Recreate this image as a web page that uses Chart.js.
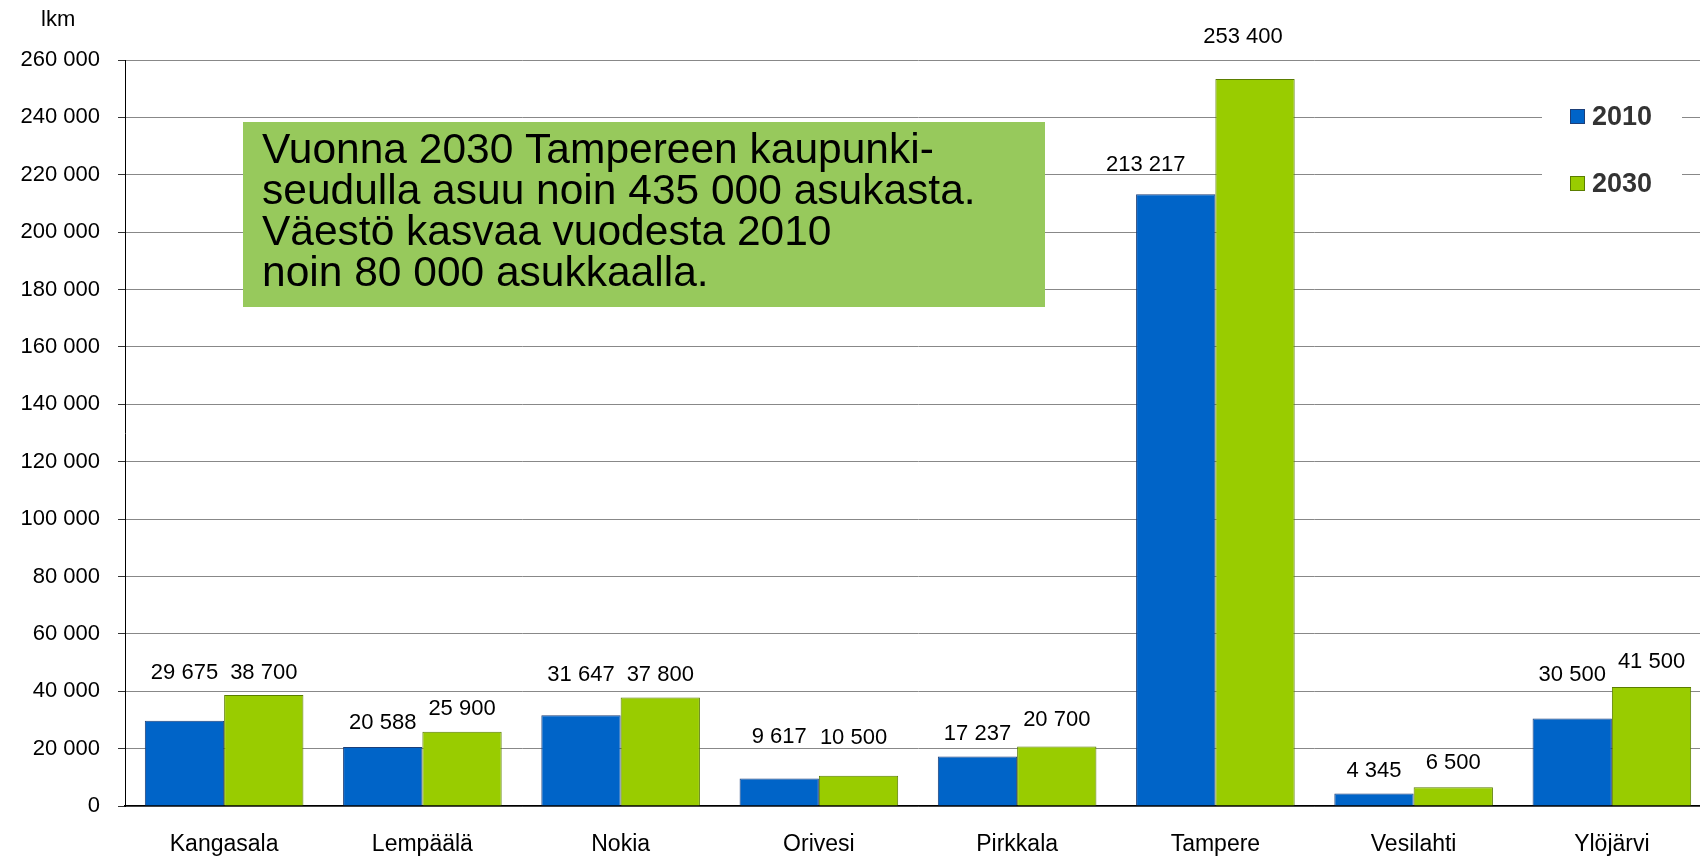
<!DOCTYPE html>
<html lang="fi">
<head>
  <meta charset="UTF-8">
  <title>Väestö 2010 ja 2030</title>
  <style>
    html, body { margin: 0; padding: 0; overflow: hidden; background: #fff; }
    #wrap { width: 1712px; height: 857px; position: relative; }
  </style>
</head>
<body>
  <div id="wrap">
    <canvas id="grafico"></canvas>
  </div>

  <script src="https://cdn.jsdelivr.net/npm/chart.js"></script>
  <script>
    // data
    const kunnat = ["Kangasala", "Lempäälä", "Nokia", "Orivesi", "Pirkkala", "Tampere", "Vesilahti", "Ylöjärvi"];
    const vaesto2010 = [29675, 20588, 31647, 9617, 17237, 213217, 4345, 30500];
    const vaesto2030 = [38700, 25900, 37800, 10500, 20700, 253400, 6500, 41500];
    const yTickStep = 20000;
    const yMax = 260000;

    // label nudges (px)
    const nosto2010 = [48, 24, 40, 41, 23, 29, 23, 44];
    const nosto2030 = [22, 23, 23, 38, 27, 42, 24, 25];
    const siirto2010 = [0, 0, 0, 0, 0, -30, 0, 0];
    const siirto2030 = [0, 0, 0, -5, 0, -12, 0, 0];

    const fontti = "'Liberation Sans', Arial, sans-serif";
    const fmt = n => String(n).replace(/\B(?=(\d{3})+(?!\d))/g, " ");

    const arvoLabelit = {
      id: "arvoLabelit",
      afterDatasetsDraw(chart) {
        const ctx = chart.ctx;
        const nostot = [nosto2010, nosto2030];
        const siirrot = [siirto2010, siirto2030];
        ctx.save();
        ctx.font = "22px " + fontti;
        ctx.fillStyle = "#000";
        ctx.textAlign = "center";
        ctx.textBaseline = "middle";
        chart.data.datasets.forEach((ds, i) => {
          chart.getDatasetMeta(i).data.forEach((bar, j) => {
            ctx.fillText(fmt(ds.data[j]), bar.x + siirrot[i][j], bar.y - nostot[i][j]);
          });
        });
        ctx.restore();
      }
    };

    const koristeet = {
      id: "koristeet",
      afterDraw(chart) {
        const ctx = chart.ctx;
        ctx.save();

        // yksikkö
        ctx.font = "22px " + fontti;
        ctx.fillStyle = "#000";
        ctx.textBaseline = "middle";
        ctx.textAlign = "left";
        ctx.fillText("lkm", 41, 20);

        // selite
        ctx.fillStyle = "#fff";
        ctx.fillRect(1542, 85, 140, 128);
        const rivit = [117, 184];
        chart.data.datasets.forEach((ds, i) => {
          const y = rivit[i];
          ctx.fillStyle = ds.backgroundColor;
          ctx.fillRect(1570, y - 8, 15, 15);
          ctx.strokeStyle = ds.borderColor;
          ctx.lineWidth = 1;
          ctx.strokeRect(1570.5, y - 7.5, 14, 14);
          ctx.fillStyle = "#333";
          ctx.font = "bold 27px " + fontti;
          ctx.textAlign = "left";
          ctx.fillText(ds.label, 1592, y + 1);
        });

        // huomautus
        ctx.fillStyle = "#97c95c";
        ctx.fillRect(243, 122, 802, 185);
        ctx.fillStyle = "#000";
        ctx.font = "42.5px " + fontti;
        ctx.textBaseline = "alphabetic";
        const teksti = [
          "Vuonna 2030 Tampereen kaupunki-",
          "seudulla asuu noin 435 000 asukasta.",
          "Väestö kasvaa vuodesta 2010",
          "noin 80 000 asukkaalla."
        ];
        teksti.forEach((t, k) => ctx.fillText(t, 262, 163 + k * 41));
        ctx.restore();
      }
    };

    new Chart(document.querySelector("#grafico"), {
      type: "bar",
      data: {
        labels: kunnat,
        datasets: [
          {
            label: "2010",
            data: vaesto2010,
            backgroundColor: "#0064c8",
            borderColor: "#1d3f78",
            borderWidth: 1
          },
          {
            label: "2030",
            data: vaesto2030,
            backgroundColor: "#99cc00",
            borderColor: "#5a7d00",
            borderWidth: 1
          }
        ]
      },
      options: {
        responsive: true,
        maintainAspectRatio: false,
        animation: false,
        devicePixelRatio: 1,
        categoryPercentage: 0.8,
        barPercentage: 1.0,
        layout: { padding: { top: 60, right: 1, bottom: 0, left: 0 } },
        plugins: {
          legend: { display: false },
          tooltip: { enabled: false }
        },
        scales: {
          x: {
            afterFit(scale) { scale.height = 51; },
            grid: { display: false, drawTicks: false },
            border: { color: "#000", width: 1.5 },
            ticks: {
              color: "#000",
              padding: 25,
              font: { size: 23, family: fontti }
            }
          },
          y: {
            min: 0,
            max: yMax,
            afterFit(scale) { scale.width = 125; },
            border: { color: "#000", width: 1 },
            grid: {
              color: c => (c.tick && c.tick.value % yTickStep === 0) ? "#888" : "rgba(0,0,0,0)",
              tickColor: "#333",
              tickLength: 7,
              lineWidth: 1
            },
            ticks: {
              stepSize: yTickStep / 2,
              color: "#000",
              padding: 18,
              font: { size: 22, family: fontti },
              callback: v => (v % yTickStep === 0) ? fmt(v) : ""
            }
          }
        }
      },
      plugins: [arvoLabelit, koristeet]
    });
  </script>
</body>
</html>
